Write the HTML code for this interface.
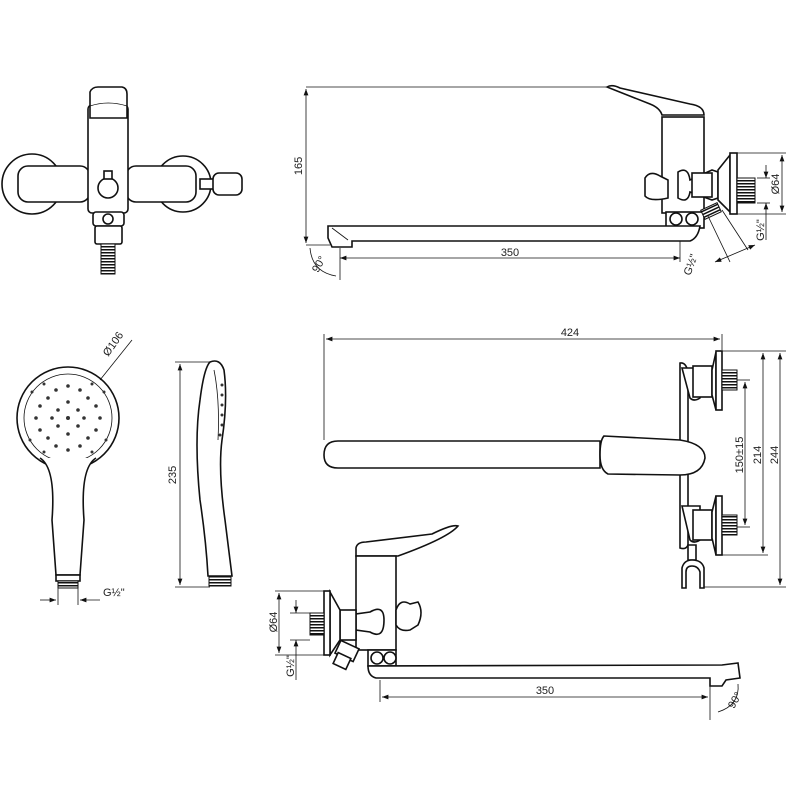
<!DOCTYPE html>
<html><head><meta charset="utf-8"><style>
html,body{margin:0;padding:0;background:#fff;}
svg{display:block}
text{font-family:"Liberation Sans",sans-serif;font-size:11px;fill:#222}
.o{fill:#fff;stroke:#111;stroke-width:1.6}
.t{fill:none;stroke:#111;stroke-width:0.8}
</style></head><body>
<svg width="800" height="800" viewBox="0 0 800 800" xmlns="http://www.w3.org/2000/svg">
<defs>
<marker id="a" markerWidth="8" markerHeight="6" refX="8" refY="3" orient="auto-start-reverse"><path d="M0,0 L8,3 L0,6z" fill="#111"/></marker>
<pattern id="th" width="3" height="3" patternUnits="userSpaceOnUse"><rect width="3" height="3" fill="#fff"/><rect width="3" height="1.5" fill="#111"/></pattern>
</defs>

<!-- ===== Top-left front view ===== -->
<circle class="o" cx="32" cy="184" r="30"/>
<circle class="o" cx="183" cy="184" r="28"/>
<rect class="o" x="18" y="166" width="72" height="36" rx="10"/>
<rect class="o" x="126" y="166" width="70" height="36" rx="10"/>
<rect class="o" x="200" y="179" width="14" height="10"/>
<rect class="o" x="213" y="173" width="29" height="22" rx="6"/>
<rect class="o" x="88" y="105" width="40" height="108" rx="4"/>
<path class="o" d="M90,118 L90,92 Q92,87 98,87 L122,87 Q127,88 127,94 L127,118 Z"/>
<path class="t" d="M90,106 Q108,100 127,106"/>
<circle class="o" cx="108" cy="188" r="10"/>
<rect class="o" x="104" y="171" width="8" height="8"/>
<rect class="o" x="93" y="212" width="31" height="14" rx="3"/>
<circle class="o" cx="108" cy="219" r="5"/>
<rect class="o" x="95" y="226" width="27" height="18" rx="2"/>
<rect x="101" y="244" width="14" height="30" fill="url(#th)" stroke="#111"/>

<!-- ===== Top-right side view ===== -->
<line class="t" x1="306" y1="87" x2="607" y2="87"/>
<line class="t" x1="306" y1="245" x2="330" y2="245"/>
<line class="t" x1="306" y1="89" x2="306" y2="243" marker-start="url(#a)" marker-end="url(#a)"/>
<text transform="translate(302,166) rotate(-90)" text-anchor="middle">165</text>
<path class="o" d="M607,87 Q612,84 620,88 L690,104 Q704,106 704,115 L662,115 Q660,108 650,104 Z"/>
<rect class="o" x="662" y="117" width="42" height="96"/>
<path class="o" d="M645,178 Q650,170 660,176 L668,180 L668,198 Q650,202 645,196 Z"/>
<path class="o" d="M678,172 Q688,166 690,180 L712,170 L718,172 L718,198 L712,200 L690,192 Q688,204 678,198 Z"/>
<rect class="o" x="692" y="173" width="20" height="24"/>
<path class="o" d="M718,170 L730,155 L730,212 L718,200 Z"/>
<rect class="o" x="730" y="153" width="7" height="61"/>
<rect x="737" y="178" width="18" height="25" fill="url(#th)" stroke="#111"/>
<rect class="o" x="666" y="212" width="38" height="16"/>
<circle class="o" cx="676" cy="219" r="6"/><circle class="o" cx="692" cy="219" r="6"/>
<rect x="702" y="206" width="18" height="10" fill="url(#th)" stroke="#111" transform="rotate(-25 711 211)"/>
<path class="o" d="M328,226 L700,226 Q698,238 690,241 L352,241 L352,247 L332,247 L328,238 Z"/>
<path class="t" d="M332,228 L348,240"/>
<line class="t" x1="782" y1="155" x2="782" y2="212" marker-start="url(#a)" marker-end="url(#a)"/>
<line class="t" x1="737" y1="153" x2="786" y2="153"/><line class="t" x1="737" y1="214" x2="786" y2="214"/>
<text transform="translate(779,184) rotate(-90)" text-anchor="middle">Ø64</text>
<line class="t" x1="757" y1="178" x2="770" y2="178"/><line class="t" x1="757" y1="203" x2="770" y2="203"/>
<line class="t" x1="766" y1="165" x2="766" y2="178" marker-end="url(#a)"/>
<line class="t" x1="766" y1="203" x2="766" y2="240" marker-start="url(#a)"/>
<text transform="translate(764,230) rotate(-90)" text-anchor="middle">G½"</text>
<line class="t" x1="340" y1="258" x2="680" y2="258" marker-start="url(#a)" marker-end="url(#a)"/>
<line class="t" x1="340" y1="248" x2="340" y2="280"/>
<line class="t" x1="680" y1="241" x2="680" y2="262"/>
<text x="510" y="256" text-anchor="middle">350</text>
<path class="t" d="M310,248 Q312,272 336,276"/>
<text transform="translate(322,266) rotate(-60)" text-anchor="middle">90°</text>
<line class="t" x1="708" y1="216" x2="730" y2="262"/>
<line class="t" x1="722" y1="210" x2="748" y2="250"/>
<line class="t" x1="715" y1="262" x2="755" y2="245" marker-start="url(#a)" marker-end="url(#a)"/>
<text transform="translate(694,266) rotate(-70)" text-anchor="middle">G½"</text>

<!-- ===== Handshower front ===== -->
<circle class="o" cx="68" cy="418" r="51"/>
<circle class="t" cx="68" cy="418" r="44"/>
<g fill="#333">
<circle cx="68" cy="418" r="2"/>
<circle cx="58" cy="410" r="1.8"/><circle cx="78" cy="410" r="1.8"/><circle cx="58" cy="426" r="1.8"/><circle cx="78" cy="426" r="1.8"/>
<circle cx="68" cy="402" r="1.8"/><circle cx="68" cy="434" r="1.8"/><circle cx="52" cy="418" r="1.8"/><circle cx="84" cy="418" r="1.8"/>
<circle cx="48" cy="398" r="1.8"/><circle cx="88" cy="398" r="1.8"/><circle cx="48" cy="438" r="1.8"/><circle cx="88" cy="438" r="1.8"/>
<circle cx="68" cy="386" r="1.8"/><circle cx="68" cy="450" r="1.8"/><circle cx="36" cy="418" r="1.8"/><circle cx="100" cy="418" r="1.8"/>
<circle cx="56" cy="390" r="1.8"/><circle cx="80" cy="390" r="1.8"/><circle cx="56" cy="446" r="1.8"/><circle cx="80" cy="446" r="1.8"/>
<circle cx="40" cy="406" r="1.8"/><circle cx="96" cy="406" r="1.8"/><circle cx="40" cy="430" r="1.8"/><circle cx="96" cy="430" r="1.8"/>
<circle cx="32" cy="392" r="1.5"/><circle cx="44" cy="384" r="1.5"/><circle cx="92" cy="384" r="1.5"/><circle cx="104" cy="392" r="1.5"/>
<circle cx="30" cy="440" r="1.5"/><circle cx="106" cy="440" r="1.5"/><circle cx="44" cy="452" r="1.5"/><circle cx="92" cy="452" r="1.5"/>
</g>
<path class="o" d="M40,458 Q56,468 52,520 L56,575 L80,575 L84,520 Q80,468 96,458"/>
<rect class="o" x="56" y="575" width="24" height="6"/>
<rect x="58" y="581" width="20" height="7" fill="url(#th)" stroke="#111"/>
<line class="t" x1="40" y1="600" x2="56" y2="600" marker-end="url(#a)"/>
<line class="t" x1="80" y1="600" x2="100" y2="600" marker-start="url(#a)"/>
<line class="t" x1="58" y1="588" x2="58" y2="605"/><line class="t" x1="78" y1="588" x2="78" y2="605"/>
<text x="103" y="596">G½"</text>
<line class="t" x1="100" y1="380" x2="132" y2="340"/>
<text transform="translate(116,346) rotate(-55)" text-anchor="middle">Ø106</text>

<!-- ===== Handshower side ===== -->
<path class="o" d="M210,362 Q220,358 224,370 Q228,400 222,440 Q218,470 225,520 Q230,560 232,576 L208,576 Q206,540 200,500 Q194,440 200,400 Q204,368 210,362 Z"/>
<path class="t" d="M214,370 Q220,400 218,440"/>
<g fill="#333"><circle cx="222" cy="385" r="1.5"/><circle cx="222" cy="395" r="1.5"/><circle cx="222" cy="405" r="1.5"/><circle cx="222" cy="415" r="1.5"/><circle cx="222" cy="425" r="1.5"/><circle cx="220" cy="435" r="1.5"/></g>
<rect x="209" y="576" width="22" height="10" fill="url(#th)" stroke="#111"/>
<line class="t" x1="175" y1="362" x2="210" y2="362"/>
<line class="t" x1="175" y1="587" x2="210" y2="587"/>
<line class="t" x1="180" y1="364" x2="180" y2="585" marker-start="url(#a)" marker-end="url(#a)"/>
<text transform="translate(176,475) rotate(-90)" text-anchor="middle">235</text>

<!-- ===== Bottom-right top view ===== -->
<line class="t" x1="324" y1="334" x2="324" y2="440"/>
<line class="t" x1="722" y1="334" x2="722" y2="350"/>
<line class="t" x1="326" y1="339" x2="720" y2="339" marker-start="url(#a)" marker-end="url(#a)"/>
<text x="570" y="336" text-anchor="middle">424</text>
<path class="o" d="M680,363 Q686,362 688,372 L688,545 Q686,550 680,548 Z"/>
<path class="o" d="M682,368 L700,368 L700,398 Q694,402 690,398 Z"/>
<path class="o" d="M682,506 L700,506 L700,540 Q694,544 690,540 Z"/>
<rect class="o" x="693" y="366" width="19" height="31"/>
<rect class="o" x="693" y="510" width="19" height="30"/>
<path class="o" d="M712,370 L716,352 L716,410 L712,395 Z"/>
<path class="o" d="M712,512 L716,496 L716,555 L712,538 Z"/>
<rect class="o" x="716" y="351" width="6" height="59"/>
<rect class="o" x="716" y="496" width="6" height="59"/>
<rect x="722" y="370" width="15" height="20" fill="url(#th)" stroke="#111"/>
<rect x="722" y="515" width="15" height="20" fill="url(#th)" stroke="#111"/>
<path d="M324,455 Q324,441 338,441 L600,441 L600,468 L338,468 Q324,468 324,455 Z" style="stroke:#111;stroke-width:1.6;fill:#fff"/>
<path class="o" d="M604,436 L680,440 Q705,444 705,458 Q702,475 680,475 L608,474 Q600,470 600,455 Q600,440 604,436 Z"/>
<path class="o" d="M688,545 L696,545 L696,560 L688,560 Z"/>
<path class="o" d="M682,588 L682,568 Q684,560 692,560 Q702,560 704,568 L704,588 L700,588 L700,572 Q698,566 692,566 Q686,566 686,572 L686,588 Z"/>
<line class="t" x1="737" y1="380" x2="750" y2="380"/><line class="t" x1="737" y1="527" x2="750" y2="527"/>
<line class="t" x1="745" y1="382" x2="745" y2="525" marker-start="url(#a)" marker-end="url(#a)"/>
<text transform="translate(743,455) rotate(-90)" text-anchor="middle">150±15</text>
<line class="t" x1="722" y1="351" x2="786" y2="351"/><line class="t" x1="722" y1="555" x2="768" y2="555"/>
<line class="t" x1="763" y1="353" x2="763" y2="553" marker-start="url(#a)" marker-end="url(#a)"/>
<text transform="translate(761,455) rotate(-90)" text-anchor="middle">214</text>
<line class="t" x1="704" y1="587" x2="786" y2="587"/>
<line class="t" x1="780" y1="353" x2="780" y2="585" marker-start="url(#a)" marker-end="url(#a)"/>
<text transform="translate(778,455) rotate(-90)" text-anchor="middle">244</text>

<!-- ===== Bottom-left side view ===== -->
<path class="o" d="M356,548 Q357,542 366,542 L432,534 Q452,524 458,526 Q448,538 398,556 L356,556 Z"/>
<rect class="o" x="356" y="556" width="40" height="94"/>
<path class="o" d="M396,610 Q400,598 410,604 L418,602 Q424,612 418,625 L410,630 Q400,632 396,625 Z"/>
<path class="o" d="M370,612 Q384,604 384,620 Q384,640 370,632 L356,630 L356,614 Z"/>
<rect class="o" x="340" y="610" width="16" height="30"/>
<path class="o" d="M330,592 L340,610 L340,640 L330,655 Z"/>
<rect class="o" x="324" y="591" width="6" height="64"/>
<rect x="310" y="613" width="14" height="22" fill="url(#th)" stroke="#111"/>
<rect class="o" x="337" y="644" width="20" height="14" transform="rotate(25 347 651)"/>
<rect class="o" x="335" y="655" width="14" height="12" transform="rotate(25 342 661)"/>
<rect class="o" x="368" y="650" width="28" height="16"/>
<circle class="o" cx="377" cy="658" r="6"/><circle class="o" cx="390" cy="658" r="6"/>
<path class="o" d="M368,666 L722,665 L738,663 L740,678 L726,680 L722,686 L710,686 L710,678 L376,678 Q368,676 368,666 Z"/>
<line class="t" x1="275" y1="591" x2="324" y2="591"/><line class="t" x1="275" y1="655" x2="324" y2="655"/>
<line class="t" x1="279" y1="593" x2="279" y2="653" marker-start="url(#a)" marker-end="url(#a)"/>
<text transform="translate(277,622) rotate(-90)" text-anchor="middle">Ø64</text>
<line class="t" x1="290" y1="613" x2="310" y2="613"/><line class="t" x1="290" y1="640" x2="310" y2="640"/>
<line class="t" x1="296" y1="600" x2="296" y2="613" marker-end="url(#a)"/>
<line class="t" x1="296" y1="640" x2="296" y2="680" marker-start="url(#a)"/>
<text transform="translate(294,666) rotate(-90)" text-anchor="middle">G½"</text>
<line class="t" x1="380" y1="680" x2="380" y2="702"/>
<line class="t" x1="382" y1="697" x2="708" y2="697" marker-start="url(#a)" marker-end="url(#a)"/>
<line class="t" x1="710" y1="686" x2="710" y2="720"/>
<text x="545" y="694" text-anchor="middle">350</text>
<path class="t" d="M738,684 Q740,705 718,712"/>
<text transform="translate(738,702) rotate(-60)" text-anchor="middle">90°</text>
</svg>
</body></html>
